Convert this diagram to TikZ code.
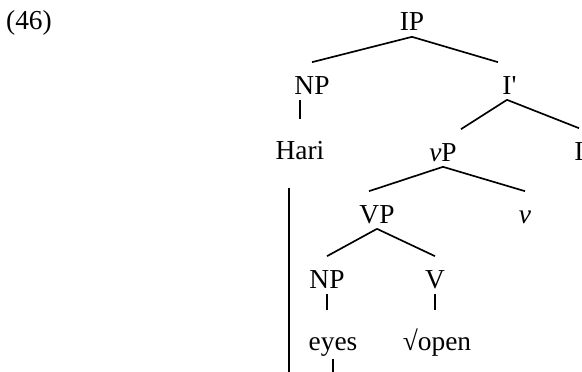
\documentclass[tikz,border=0pt]{standalone}
\usepackage{fontspec}
\setmainfont{Liberation Serif}
\usepackage{tikz}

\begin{document}
\begin{tikzpicture}[x=0.02cm, y=-0.02cm, line width=0.95pt,
    cat/.style={anchor=base, inner sep=0pt, text height=0.62cm, text depth=0.1cm, font=\fontsize{15.6}{18}\selectfont},
    unary/.style={shorten >=0.16cm}]
    \useasboundingbox (0,0) rectangle (582,372);
    \coordinate (bottom) at (0,372);

    % Example number
    \node[cat] (exnum) at (29,30) {(46)};

    % Categories and words
    \node[cat] (ip) at (412,31) {IP};
    \node[cat] (np1) at (312,94) {NP};
    \node[cat] (ibar) at (507,94) {I\rlap{\textquotesingle}};
    \node[cat] (hari) at (300,159) {Hari};
    \node[cat] (vp) at (443,161) {\textit{v}P};
    \node[cat] (i) at (579,160) {I};
    \node[cat] (vp2) at (377,223) {VP};
    \node[cat] (vhead) at (525,223) {\textit{v}};
    \node[cat] (np2) at (327,288) {NP};
    \node[cat] (verb) at (435,288) {V};
    \node[cat] (eyes) at (333,350) {eyes};
    \node[cat] (root) at (437,350) {√open};

    % Branches
    \draw (ip.south) -- (np1.north);
    \draw (ip.south) -- ([xshift=-0.18cm]ibar.north);
    \draw (ibar.south) -- ([xshift=0.36cm]vp.north);
    \draw (ibar.south) -- (i.north);
    \draw (vp.south) -- ([xshift=-0.16cm]vp2.north);
    \draw (vp.south) -- (vhead.north);
    \draw (vp2.south) -- (np2.north);
    \draw (vp2.south) -- (verb.north);
    \draw[unary] (hari.north |- np1.south) -- (hari.north);
    \draw[unary] (np2.south) -- (np2.south |- eyes.north);
    \draw[unary] (verb.south) -- (verb.south |- root.north);

    % Traces running off the page
    \coordinate (hari-trace) at ([xshift=-0.22cm, yshift=-0.46cm]hari.south);
    \coordinate (eyes-trace) at ([yshift=-0.06cm]eyes.south);
    \draw (hari-trace) -- (hari-trace |- bottom);
    \draw (eyes-trace) -- (eyes-trace |- bottom);
\end{tikzpicture}
\end{document}
